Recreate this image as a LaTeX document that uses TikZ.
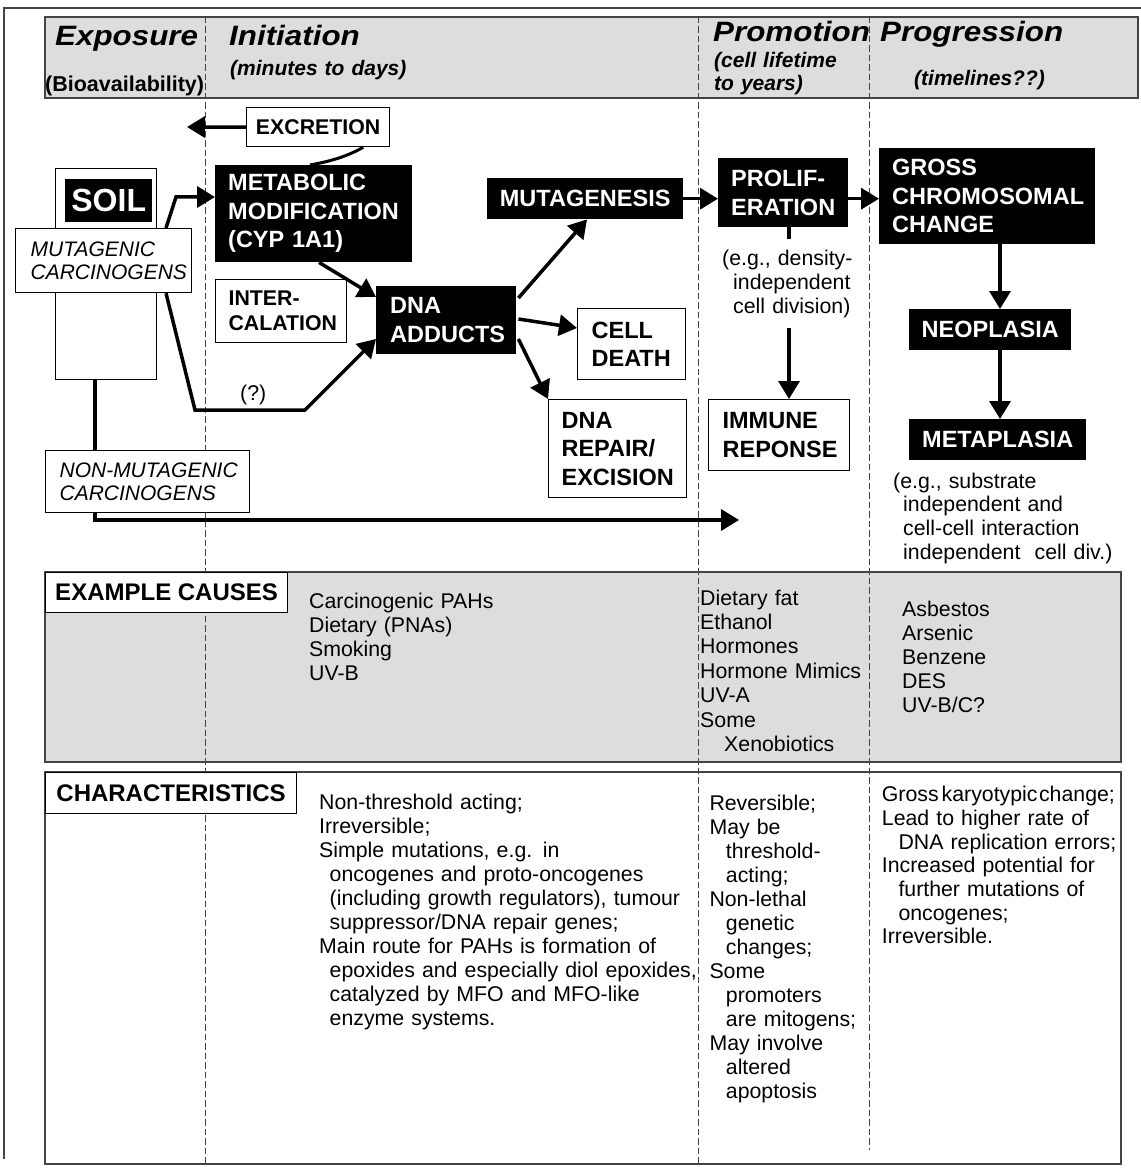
\documentclass[tikz,border=0pt]{standalone}
\usepackage{fontspec}
\setmainfont{Liberation Sans}
\newfontfamily\ttlfam[FakeStretch=1.12]{Liberation Sans}
\usetikzlibrary{arrows.meta,calc}
\hyphenpenalty=10000
\exhyphenpenalty=10000
\definecolor{hdgray}{HTML}{DDDDDD}
\definecolor{lngray}{HTML}{444444}
\newcommand\myttl{\ttlfam\fontsize{28}{31}\selectfont\bfseries\itshape}
\newcommand\mysub{\fontsize{21}{23}\selectfont\bfseries\itshape}
\newcommand\mybio{\fontsize{21.5}{24}\selectfont\bfseries}
\newcommand\mybx{\fontsize{23.5}{28.5}\selectfont\bfseries}
\newcommand\mysmbx{\fontsize{21.3}{25}\selectfont\bfseries}
\newcommand\myhd{\fontsize{24}{28}\selectfont\bfseries}
\newcommand\mytx{\fontsize{21.3}{24}\selectfont}
\newcommand\mytxb{\fontsize{21.3}{24.4}\selectfont}
\newcommand\mytxc{\fontsize{21.3}{23.7}\selectfont}
\newcommand\myit{\fontsize{21}{23.5}\selectfont\itshape}
\newcommand\mysoil{\fontsize{32}{36}\selectfont\bfseries}
\begin{document}
\begin{tikzpicture}[x=1pt,y=-1pt,
  wbox/.style={draw=black,line width=1.2pt,fill=white,anchor=north west,inner sep=0pt},
  bbox/.style={fill=black,text=white,anchor=north west,inner sep=0pt},
  txt/.style={anchor=base west,inner sep=0pt,align=left,font=\mytx},
  thk/.style={line width=3.5pt},
  arr/.style={line width=3.5pt,-{Triangle[length=18pt,width=21pt]}},
  dsh/.style={lngray,line width=1pt,dash pattern=on 6.5pt off 3pt},
]
\useasboundingbox (0,0) rectangle (1140,1169);
% frame and panels
\draw[lngray,line width=1.5pt] (4,1159) -- (4,8) -- (1141,8);
\draw[lngray,line width=1.2pt,fill=hdgray] (45,17) rectangle (1138,98);
\draw[lngray,line width=1.2pt,fill=hdgray] (45,572) rectangle (1121,762);
\draw[lngray,line width=1.2pt,fill=white] (45,772) rectangle (1121,1164);
% phase separators
\draw[dsh] (205.5,17) -- (205.5,1164);
\draw[dsh] (698.8,17) -- (698.8,1164);
\draw[dsh] (869.5,17) -- (869.5,1150);
% header texts
\node[txt,font=\myttl,text width=160pt] (hexp) at (55,46) {Exposure};
\node[txt,font=\mybio,text width=170pt] (hbio) at (45,92) {(Bioavailability)};
\node[txt,font=\myttl,text width=200pt] (hini) at (229,46) {Initiation};
\node[txt,font=\mysub,text width=200pt] (hmin) at (230,76) {(minutes to days)};
\node[txt,font=\myttl,text width=170pt] (hpro) at (713,42) {Promotion};
\node[txt,font=\mysub,text width=150pt] (hcell) at (714,68) {(cell lifetime\\to years)};
\node[txt,font=\myttl,text width=220pt] (hprg) at (880,42) {Progression};
\node[txt,font=\mysub,text width=150pt] (htime) at (914,86) {(timelines??)};
% label boxes of lower panels
\node[wbox,font=\myhd,minimum width=242pt,minimum height=40pt] (excause) at (45,572) {EXAMPLE CAUSES};
\node[wbox,font=\myhd,minimum width=251pt,minimum height=41pt] (charac) at (45,772) {CHARACTERISTICS};
% diagram nodes
\node[wbox,font=\mysmbx,minimum width=143pt,minimum height=39pt] (excr) at (246,107) {EXCRETION};
\node[wbox,minimum width=101pt,minimum height=211pt] (soilbg) at (55,168) {};
\node[bbox,font=\mysoil,minimum width=87pt,minimum height=43pt] (soil) at (65,179) {SOIL};
\node[wbox,font=\myit,minimum width=176pt,minimum height=64pt,text width=146pt,inner xsep=15pt,align=left] (mutag) at (15,228) {MUTAGENIC\\CARCINOGENS};
\node[bbox,font=\mybx,minimum width=197pt,minimum height=97pt,text width=171pt,inner xsep=13pt,align=left] (metab) at (215,165) {METABOLIC\\MODIFICATION\\(CYP 1A1)};
\node[wbox,font=\mysmbx,minimum width=131pt,minimum height=63pt,text width=105pt,inner xsep=13pt,align=left] (inter) at (215,279) {INTER-\\CALATION};
\node[bbox,font=\mybx,minimum width=140pt,minimum height=68pt,text width=112pt,inner xsep=14pt,align=left] (dna) at (376,286) {DNA\\ADDUCTS};
\node[bbox,font=\mybx,minimum width=196pt,minimum height=41pt] (mutg) at (487,178) {MUTAGENESIS};
\node[wbox,font=\mybx,minimum width=108pt,minimum height=71pt,text width=80pt,inner xsep=14pt,align=left] (cell) at (577,308) {CELL\\DEATH};
\node[wbox,font=\mybx,minimum width=138pt,minimum height=98pt,text width=112pt,inner xsep=13pt,align=left] (repair) at (548,399) {DNA\\REPAIR/\\EXCISION};
\node[bbox,font=\mybx,minimum width=130pt,minimum height=69pt,text width=104pt,inner xsep=13pt,align=left] (prolif) at (718,158) {PROLIF-\\ERATION};
\node[wbox,font=\mybx,minimum width=141pt,minimum height=71pt,text width=113pt,inner xsep=14pt,align=left] (immune) at (708,399) {IMMUNE\\REPONSE};
\node[bbox,font=\mybx,minimum width=216pt,minimum height=96pt,text width=190pt,inner xsep=13pt,align=left] (gross) at (879,148) {GROSS\\CHROMOSOMAL\\CHANGE};
\node[bbox,font=\mybx,minimum width=162pt,minimum height=41pt] (neo) at (909,309) {NEOPLASIA};
\node[bbox,font=\mybx,minimum width=177pt,minimum height=41pt] (meta) at (909,419) {METAPLASIA};
\node[wbox,font=\myit,minimum width=204pt,minimum height=62pt,text width=176pt,inner xsep=14pt,align=left] (nonmut) at (45,450) {\mbox{NON-MUTAGENIC}\\CARCINOGENS};
% annotations
\node[txt,text width=140pt,inner ysep=10pt] (eg1) at (722,265) {(e.g., density-\\\hspace*{11pt}independent\\\hspace*{11pt}cell division)};
\node[txt,font=\mytxc,text width=240pt] (eg2) at (893,488) {(e.g., substrate\\\hspace*{10pt}independent and\\\hspace*{10pt}cell-cell interaction\\\hspace*{10pt}independent\ \ cell div.)};
\node[txt,text width=40pt] (qm) at (240,400) {(?)};
% example causes
\node[txt,text width=250pt] (c1) at (309,608) {Carcinogenic PAHs\\Dietary (PNAs)\\Smoking\\UV-B};
\node[txt,font=\mytxb,text width=168pt] (c2) at (700,605) {Dietary fat\\Ethanol\\Hormones\\Hormone Mimics\\UV-A\\Some\\\hspace*{24pt}Xenobiotics};
\node[txt,text width=200pt] (c3) at (902,616) {Asbestos\\Arsenic\\Benzene\\DES\\UV-B/C?};
% characteristics
\node[txt,text width=420pt] (ch1) at (319,809.3) {Non-threshold acting;\\Irreversible;\\Simple mutations, e.g. in\\\hspace*{10.5pt}oncogenes and proto-oncogenes\\\hspace*{10.5pt}(including growth regulators), tumour\\\hspace*{10.5pt}suppressor/DNA repair genes;\\Main route for PAHs is formation of\\\hspace*{10.5pt}epoxides and especially diol epoxides,\\\hspace*{10.5pt}catalyzed by MFO and MFO-like\\\hspace*{10.5pt}enzyme systems.};
\node[txt,text width=165pt] (ch2) at (709.3,810) {Reversible;\\May be\\\hspace*{16.4pt}threshold-\\\hspace*{16.4pt}acting;\\Non-lethal\\\hspace*{16.4pt}genetic\\\hspace*{16.4pt}changes;\\Some\\\hspace*{16.4pt}promoters\\\hspace*{16.4pt}are mitogens;\\May involve\\\hspace*{16.4pt}altered\\\hspace*{16.4pt}apoptosis};
\node[txt,font=\mytxc,text width=260pt] (ch3) at (881.7,801.7) {Gross\hspace{3pt}karyotypic\hspace{1.5pt}change;\\Lead to higher rate of\\\hspace*{16.6pt}DNA replication errors;\\Increased potential for\\\hspace*{16.6pt}further mutations of\\\hspace*{16.6pt}oncogenes;\\Irreversible.};
% connectors
\coordinate (exend) at (187,127);
\draw[arr] (excr.west) -- (exend);
\draw[line width=3pt] ($(excr.south east)+(-27,0)$) .. controls (350,155) and (333,161) .. ($(metab.north west)+(95,0)$);
\draw[arr] ($(mutag.north west)+(151,0)$) -- ($(metab.north west)+(-39,32)$) -- ($(metab.north west)+(0,32)$);
\coordinate (q1) at (195,410);
\coordinate (q2) at (305,410);
\draw[arr] ($(mutag.south west)+(151,0)$) -- (q1) -- (q2) -- ($(dna.north west)+(0,53)$);
\draw[arr] ($(metab.south west)+(104,0)$) -- ($(dna.north west)+(0,11)$);
\draw[arr] ($(dna.north east)+(2,12)$) -- ($(mutg.south west)+(100,0)$);
\draw[arr] ($(dna.north east)+(2,33)$) -- ($(cell.north west)+(0,20)$);
\draw[arr] ($(dna.north east)+(2,53)$) -- (repair.north west);
\draw[arr] (mutg.east) -- (prolif.west |- mutg.east);
\draw[arr] (prolif.east |- mutg.east) -- (gross.west |- mutg.east);
\coordinate (px) at (789,0);
\draw[thk] (prolif.south -| px) -- (eg1.north -| px);
\draw[arr] (eg1.south -| px) -- (immune.north -| px);
\coordinate (vx) at (1000,0);
\draw[arr] (gross.south -| vx) -- (neo.north -| vx);
\draw[arr] (neo.south -| vx) -- (meta.north -| vx);
\coordinate (vs) at (95,0);
\draw[thk] (soilbg.south -| vs) -- (nonmut.north -| vs);
\coordinate (nmend) at (739,520);
\draw[arr] (nonmut.south -| vs) |- (nmend);
\end{tikzpicture}
\end{document}
